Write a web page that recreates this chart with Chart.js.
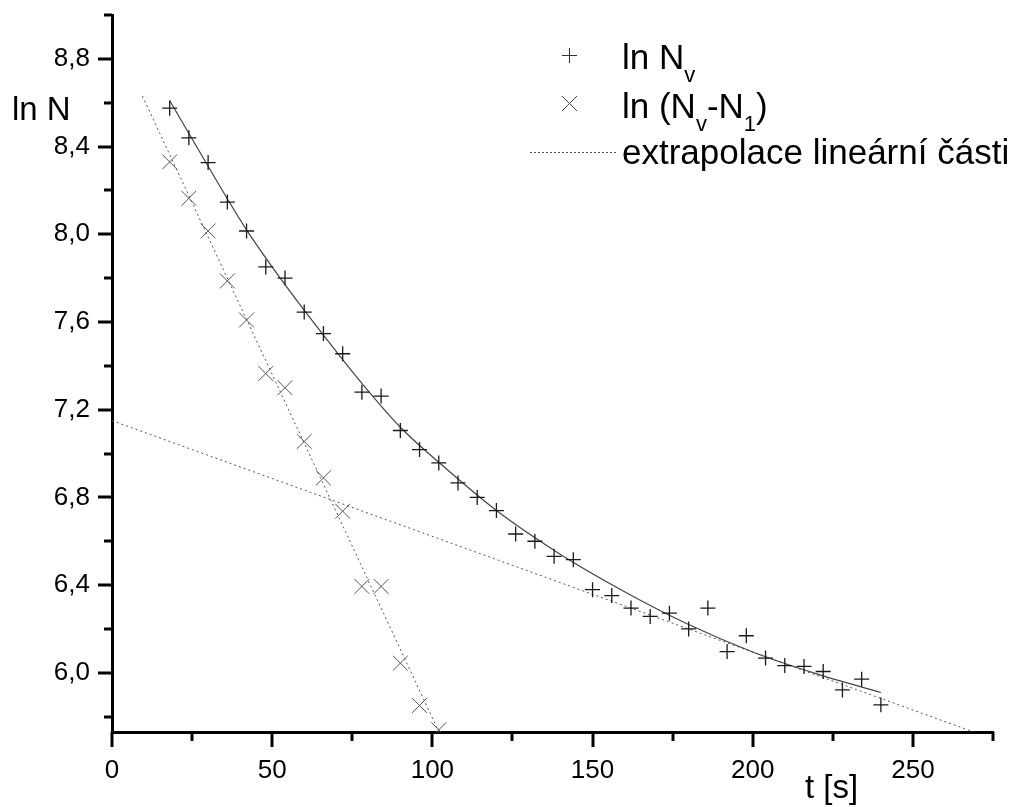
<!DOCTYPE html>
<html>
<head>
<meta charset="utf-8">
<title>ln N</title>
<script src="https://cdn.jsdelivr.net/npm/chart.js@4.4.1/dist/chart.umd.min.js"></script>
<style>
  body { margin: 0; background: #fff; }
  #obal { width: 1020px; height: 807px; position: relative; }
</style>
</head>
<body>
<div id="obal"><canvas id="graf"></canvas></div>
<script>
// === data ===
const casNv = [18, 24, 30, 36, 42, 48, 54, 60, 66, 72, 78, 84, 90, 96, 102, 108, 114, 120, 126, 132,
               138, 144, 150, 156, 162, 168, 174, 180, 186, 192, 198, 204, 210, 216, 222, 228, 234, 240];
const lnNv = [8.575, 8.44, 8.327, 8.147, 8.015, 7.851, 7.80, 7.645, 7.547, 7.455, 7.28, 7.262, 7.105, 7.018,
              6.957, 6.866, 6.80, 6.74, 6.633, 6.60, 6.531, 6.516, 6.379, 6.352, 6.295, 6.257, 6.272, 6.20,
              6.295, 6.097, 6.169, 6.067, 6.033, 6.029, 6.006, 5.922, 5.971, 5.854];

const casRozdil = [18, 24, 30, 36, 42, 48, 54, 60, 66, 72, 78, 84, 90, 96, 102];
const lnRozdil = [8.33, 8.164, 8.015, 7.787, 7.609, 7.365, 7.30, 7.055, 6.889, 6.737, 6.394, 6.394, 6.044, 5.851, 5.74];

// proložená křivka (plná čára)
const casFit = [18, 30, 42, 54, 66, 78, 90, 102, 120, 140, 160, 180, 200, 220, 240];
const lnFit = [8.61, 8.31, 8.02, 7.77, 7.54, 7.32, 7.12, 6.96, 6.74, 6.54, 6.37, 6.22, 6.095, 5.995, 5.91];

// přímka přes ln(Nv-N1)
const casRychla = [9.5, 103];
const lnRychla = [8.63, 5.70];

// extrapolace lineární části
const casExtra = [0, 269];
const lnExtra = [7.15, 5.73];

// osy
const xTicks = [0, 25, 50, 75, 100, 125, 150, 175, 200, 225, 250, 275];
const xPopisky = [0, 50, 100, 150, 200, 250];
const yTicks = [5.8, 6.0, 6.2, 6.4, 6.6, 6.8, 7.0, 7.2, 7.4, 7.6, 7.8, 8.0, 8.2, 8.4, 8.6, 8.8, 9.0];
const yPopisky = [6.0, 6.4, 6.8, 7.2, 7.6, 8.0, 8.4, 8.8];

const pismo = '"Liberation Sans", Arial, sans-serif';

function body(xs, ys) {
  return xs.map((x, i) => ({ x: x, y: ys[i] }));
}

function jePopisek(seznam, v) {
  return seznam.some(p => Math.abs(p - v) < 1e-6);
}

// čárky na osách (delší u popsaných hodnot)
const carky = {
  id: 'carky',
  afterDraw(chart) {
    const { ctx, chartArea, scales } = chart;
    ctx.save();
    ctx.strokeStyle = '#000';
    ctx.lineWidth = 3;
    xTicks.forEach(v => {
      const px = Math.round(scales.x.getPixelForValue(v));
      const delka = jePopisek(xPopisky, v) ? 15 : 9;
      ctx.beginPath();
      ctx.moveTo(px, chartArea.bottom);
      ctx.lineTo(px, chartArea.bottom + delka);
      ctx.stroke();
    });
    yTicks.forEach(v => {
      const py = Math.round(scales.y.getPixelForValue(v));
      const delka = jePopisek(yPopisky, v) ? 14 : 8;
      ctx.beginPath();
      ctx.moveTo(chartArea.left, py);
      ctx.lineTo(chartArea.left - delka, py);
      ctx.stroke();
    });
    ctx.restore();
  }
};

// text s dolními indexy: [["ln N", false], ["v", true]]
function napis(ctx, casti, x, y) {
  casti.forEach(([t, dolni]) => {
    ctx.font = dolni ? '22px ' + pismo : '35px ' + pismo;
    ctx.fillText(t, x, dolni ? y + 13 : y);
    x += ctx.measureText(t).width;
  });
}

// názvy os a legenda
const popisky = {
  id: 'popisky',
  afterDraw(chart) {
    const ctx = chart.ctx;
    ctx.save();
    ctx.fillStyle = '#000';
    ctx.textAlign = 'left';
    ctx.textBaseline = 'alphabetic';
    ctx.font = '33px ' + pismo;
    ctx.fillText('ln N', 12, 120);
    ctx.fillText('t [s]', 805, 798);

    // legenda
    ctx.strokeStyle = '#333';
    ctx.lineWidth = 1;
    ctx.beginPath();
    ctx.moveTo(562, 55.5); ctx.lineTo(577, 55.5);
    ctx.moveTo(569.5, 48); ctx.lineTo(569.5, 63);
    ctx.stroke();
    ctx.strokeStyle = '#444';
    ctx.beginPath();
    ctx.moveTo(562, 96); ctx.lineTo(577, 111);
    ctx.moveTo(577, 96); ctx.lineTo(562, 111);
    ctx.stroke();
    ctx.strokeStyle = '#555';
    ctx.setLineDash([2, 2]);
    ctx.beginPath();
    ctx.moveTo(530, 152.5); ctx.lineTo(617, 152.5);
    ctx.stroke();
    ctx.setLineDash([]);

    napis(ctx, [['ln N', false], ['v', true]], 622, 69);
    napis(ctx, [['ln (N', false], ['v', true], ['-N', false], ['1', true], [')', false]], 622, 118);
    napis(ctx, [['extrapolace lineární části', false]], 622, 164);
    ctx.restore();
  }
};

const ctx = document.getElementById('graf').getContext('2d');
const graf = new Chart(ctx, {
  type: 'scatter',
  data: {
    datasets: [
      {
        label: 'ln Nv',
        data: body(casNv, lnNv),
        pointStyle: 'cross',
        pointRadius: 7.5,
        borderColor: '#1a1a1a',
        borderWidth: 1.3,
        showLine: false
      },
      {
        label: 'fit',
        data: body(casFit, lnFit),
        showLine: true,
        pointRadius: 0,
        borderColor: '#444',
        borderWidth: 1.2,
        cubicInterpolationMode: 'monotone'
      },
      {
        label: 'ln (Nv-N1)',
        data: body(casRozdil, lnRozdil),
        pointStyle: 'crossRot',
        pointRadius: 10.5,
        borderColor: '#555',
        borderWidth: 1,
        showLine: false
      },
      {
        label: 'primka',
        data: body(casRychla, lnRychla),
        showLine: true,
        pointRadius: 0,
        borderColor: '#555',
        borderWidth: 1,
        borderDash: [2, 3]
      },
      {
        label: 'extrapolace lineární části',
        data: body(casExtra, lnExtra),
        showLine: true,
        pointRadius: 0,
        borderColor: '#555',
        borderWidth: 1,
        borderDash: [2, 3]
      }
    ]
  },
  options: {
    responsive: true,
    maintainAspectRatio: false,
    animation: false,
    layout: { padding: { left: 0, top: 15, right: 27, bottom: 0 } },
    plugins: {
      legend: { display: false },
      tooltip: { enabled: false }
    },
    scales: {
      x: {
        type: 'linear',
        min: 0,
        max: 275,
        afterFit(s) {
          s.height = 75;
          s.paddingLeft = 0;
          s.paddingRight = 0;
        },
        afterBuildTicks(s) { s.ticks = xTicks.map(v => ({ value: v })); },
        grid: { display: true, drawOnChartArea: false, drawTicks: false },
        border: { display: true, color: '#000', width: 3 },
        ticks: {
          autoSkip: false,
          maxRotation: 0,
          padding: 23,
          color: '#000',
          font: { family: pismo, size: 26 },
          callback: v => jePopisek(xPopisky, v) ? String(v) : ''
        }
      },
      y: {
        type: 'linear',
        min: 5.73,
        max: 9.0,
        afterFit(s) {
          s.width = 112;
          s.paddingTop = 0;
          s.paddingBottom = 0;
        },
        afterBuildTicks(s) { s.ticks = yTicks.map(v => ({ value: v })); },
        grid: { display: true, drawOnChartArea: false, drawTicks: false },
        border: { display: true, color: '#000', width: 3 },
        ticks: {
          autoSkip: false,
          padding: 22,
          color: '#000',
          font: { family: pismo, size: 26 },
          callback: v => jePopisek(yPopisky, v) ? v.toFixed(1).replace('.', ',') : ''
        }
      }
    }
  },
  plugins: [carky, popisky]
});
</script>
</body>
</html>
